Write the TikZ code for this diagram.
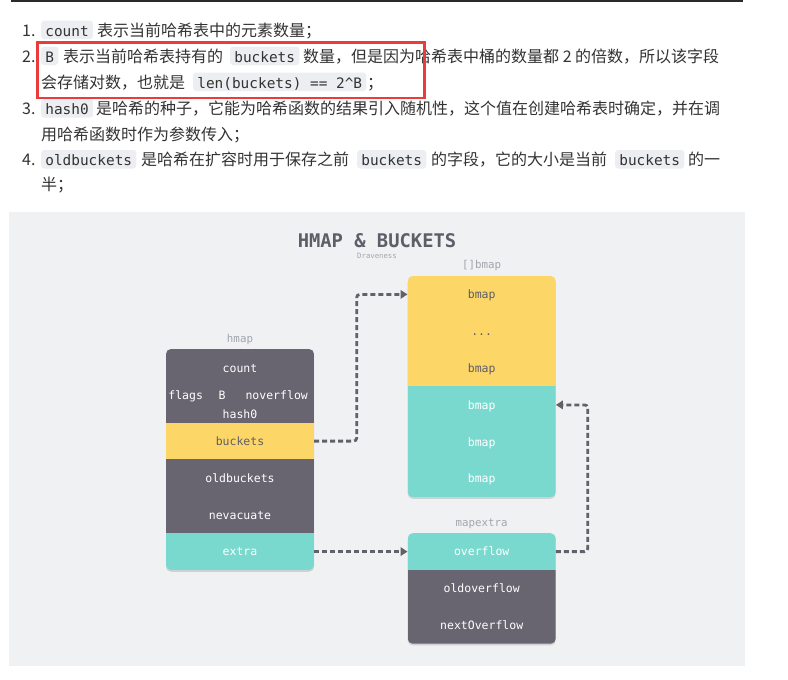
\documentclass[tikz,border=0pt]{standalone}
\usepackage{fontspec}
\setmainfont{Noto Sans CJK SC}
\newfontfamily\cjk{Noto Sans CJK SC}
\newfontfamily\codef{DejaVu Sans Mono}
\usetikzlibrary{arrows.meta}
\definecolor{darkc}{HTML}{686571}
\definecolor{yellowc}{HTML}{FCD667}
\definecolor{tealc}{HTML}{7AD9CE}
\definecolor{ytext}{HTML}{5F5D68}
\definecolor{lblc}{HTML}{A2A5AC}
\definecolor{titlec}{HTML}{5F5D68}
\definecolor{connc}{HTML}{62616A}
\definecolor{bgc}{HTML}{F0F1F3}
\definecolor{textc}{HTML}{333333}
\definecolor{codebg}{HTML}{ECEEF1}
\definecolor{redc}{HTML}{EC3B3B}
\definecolor{rulec}{HTML}{2A2A2A}
\newcommand\dfont{\codef\fontsize{11.5}{12}\selectfont}
\begin{document}
\begin{tikzpicture}[x=1pt,y=-1pt,
  txt/.style={anchor=base west, inner sep=0pt, font=\cjk\fontsize{16}{16}\selectfont, text=textc},
  code/.style={anchor=base west, fill=codebg, rounded corners=3pt, inner xsep=4.2pt, inner ysep=1.5pt,
     text height=14pt, text depth=1.5pt, font=\codef\fontsize{14.4}{14.4}\selectfont, text=textc},
  row/.style={rectangle, minimum width=148pt, minimum height=37.2pt, inner sep=0pt,
     text height=10pt, text depth=1.5pt, font=\dfont},
  dtext/.style={inner sep=0pt, text height=10pt, text depth=1.5pt, font=\dfont, text=white},
  lbl/.style={inner sep=0pt, font=\codef\fontsize{10.8}{11}\selectfont, text=lblc},
  shadowbox/.style={fill=black, opacity=0.13, rounded corners=5pt},
  conn/.style={draw=connc, line width=2.8pt, dash pattern=on 5pt off 3pt, rounded corners=3pt,
     -{Triangle[length=7pt,width=8.5pt]}}]
\useasboundingbox (0,0) rectangle (788,680);
\fill[white] (0,0) rectangle (788,680);
\fill[rulec] (11,0) rectangle (743,2);

% ---- list text ----
\node[txt] (n1) at (22,36) {1.};
\node[code] (c1) at (41,36) {count};
\node[txt] (t1) at (97,36) {表示当前哈希表中的元素数量；};

\node[txt] (n2) at (22,62) {2.};
\node[code] (c2a) at (41,62) {B};
\node[txt] (t2a) at (63,62) {表示当前哈希表持有的};
\node[code] (c2b) at (230,62) {buckets};
\node[txt] (t2b) at (303,62) {数量，但是因为哈希表中桶的数量都 2 的倍数，所以该字段};
\node[txt] (t2c) at (41,88) {会存储对数，也就是};
\node[code] (c2c) at (193,88) {len(buckets) == 2\textasciicircum B};
\node[txt] (t2d) at (367,88) {；};

\node[txt] (n3) at (22,114.5) {3.};
\node[code] (c3) at (41,114.5) {hash0};
\node[txt] (t3a) at (96,114.5) {是哈希的种子，它能为哈希函数的结果引入随机性，这个值在创建哈希表时确定，并在调};
\node[txt] (t3b) at (41,140.5) {用哈希函数时作为参数传入；};

\node[txt] (n4) at (22,165.5) {4.};
\node[code] (c4a) at (41,165.5) {oldbuckets};
\node[txt] (t4a) at (141,165.5) {是哈希在扩容时用于保存之前};
\node[code] (c4b) at (357,165.5) {buckets};
\node[txt] (t4b) at (431,165.5) {的字段，它的大小是当前};
\node[code] (c4c) at (615,165.5) {buckets};
\node[txt] (t4c) at (688,165.5) {的一};
\node[txt] (t4d) at (41,190.5) {半；};

\draw[redc, line width=2.7pt] (37.5,42.5) rectangle (424.5,98);

% ---- diagram background ----
\fill[bgc] (9,212) rectangle (745,665.5);
\node[inner sep=0pt, font=\codef\bfseries\fontsize{18.8}{19}\selectfont, text=titlec] (title) at (377,240.7) {HMAP \& BUCKETS};
\node[inner sep=0pt, font=\codef\fontsize{7.3}{8}\selectfont, text=lblc] (author) at (377,256.3) {Draveness};

% ---- hmap ----
\node[lbl] (hmaplbl) at (240,340) {hmap};
\fill[shadowbox] (166,350.6) rectangle (314,571.8);
\begin{scope}
\clip[rounded corners=5pt] (166,349) rectangle (314,570);
\node[row, fill=darkc, minimum height=74pt] (htop) at (240,385.8) {};
\node[row, fill=yellowc, text=ytext] (buckets) at (240,441.1) {buckets};
\node[row, fill=darkc, text=white] (oldbuckets) at (240,477.9) {oldbuckets};
\node[row, fill=darkc, text=white] (nevacuate) at (240,514.75) {nevacuate};
\node[row, fill=tealc, text=white, minimum height=36.9pt] (extra) at (240,551.6) {extra};
\end{scope}
\node[dtext] (count) at (240,368) {count};
\node[dtext] (flags) at (185.7,395) {flags};
\node[dtext] (B) at (222,395) {B};
\node[dtext] (noverflow) at (276.7,395) {noverflow};
\node[dtext] (hash0) at (240,414) {hash0};

% ---- bmap ----
\node[lbl] (bmaplbl) at (481.7,266) {[]bmap};
\fill[shadowbox] (407.7,277.6) rectangle (555.7,498.8);
\begin{scope}
\clip[rounded corners=5pt] (407.7,276) rectangle (555.7,497);
\node[row, fill=yellowc, text=ytext] (b0) at (481.7,294.4) {bmap};
\node[row, fill=yellowc, text=ytext] (b1) at (481.7,331.25) {...};
\node[row, fill=yellowc, text=ytext] (b2) at (481.7,368.1) {bmap};
\node[row, fill=tealc, text=white] (b3) at (481.7,404.9) {bmap};
\node[row, fill=tealc, text=white] (b4) at (481.7,441.75) {bmap};
\node[row, fill=tealc, text=white, minimum height=36.9pt] (b5) at (481.7,478.6) {bmap};
\end{scope}

% ---- mapextra ----
\node[lbl] (mxlbl) at (481.7,524) {mapextra};
\fill[shadowbox] (407.7,534.8) rectangle (555.7,645.4);
\begin{scope}
\clip[rounded corners=5pt] (407.7,533.2) rectangle (555.7,643.7);
\node[row, fill=tealc, text=white] (ov) at (481.7,551.6) {overflow};
\node[row, fill=darkc, text=white] (oldov) at (481.7,588.4) {oldoverflow};
\node[row, fill=darkc, text=white, minimum height=36.9pt] (nextov) at (481.7,625.3) {nextOverflow};
\end{scope}

% ---- connectors ----
\coordinate (jA) at (356.7,0);
\coordinate (jB) at (587.7,0);
\draw[conn] (buckets.east) -| (jA |- b0.west) -- (b0.west);
\draw[conn] (extra.east) -- (ov.west);
\draw[conn] (ov.east) -| (jB |- b3.east) -- (b3.east);
\end{tikzpicture}
\end{document}
